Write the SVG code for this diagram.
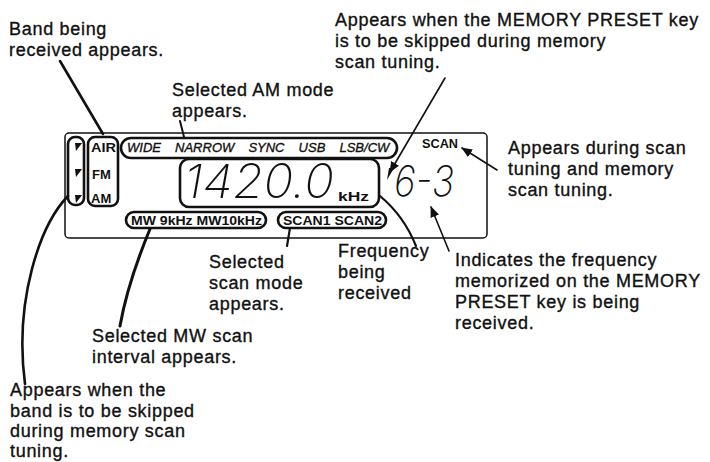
<svg xmlns="http://www.w3.org/2000/svg" width="710" height="462" viewBox="0 0 710 462">
<style>
.lbl{font-family:"Liberation Sans",Arial,sans-serif;font-size:18px;letter-spacing:0.7px;fill:#111;stroke:#111;stroke-width:0.35}
.pill{fill:none;stroke:#111;stroke-width:2.6}
.lcd{font-family:"Liberation Sans",Arial,sans-serif;font-weight:bold;fill:#111}
.mode{font-family:"Liberation Sans",Arial,sans-serif;font-style:italic;font-size:13px;fill:#111;stroke:#111;stroke-width:0.35}
.seg{font-family:Inter,"DejaVu Sans",sans-serif;font-weight:200;font-style:italic;fill:#111}
.ld{fill:none;stroke:#111;stroke-linecap:round}
</style>
<defs>
<marker id="ah" markerUnits="userSpaceOnUse" markerWidth="12" markerHeight="10" refX="10" refY="5" orient="auto">
<path d="M0,0.5 L11,5 L0,9.5 Z" fill="#111"/>
</marker>
</defs>
<rect width="710" height="462" fill="#fff"/>

<g id="panel">
<rect x="65" y="133" width="422" height="105" rx="4" fill="none" stroke="#111" stroke-width="1.5"/>
</g>
<g id="skip-markers">
<rect class="pill" x="68" y="137" width="16" height="68" rx="7"/>
<polygon points="75,143 82,143 76,151" fill="#111"/>
<polygon points="75,169 82,169 76,177" fill="#111"/>
<polygon points="75,195 82,195 76,203" fill="#111"/>
</g>
<g id="band">
<rect class="pill" x="88" y="137" width="30" height="69" rx="7"/>
<text class="lcd" x="91" y="152" font-size="13" textLength="25" lengthAdjust="spacingAndGlyphs">AIR</text>
<text class="lcd" x="92" y="179" font-size="13">FM</text>
<text class="lcd" x="91" y="203" font-size="13">AM</text>
</g>
<g id="mode">
<rect class="pill" x="121" y="138" width="276" height="20" rx="10"/>
<text class="mode" x="127" y="152" word-spacing="10.5">WIDE NARROW SYNC USB LSB/CW</text>
</g>
<g id="frequency">
<rect class="pill" x="180" y="159" width="199" height="48" rx="9"/>
<text class="seg" x="184" y="198" font-size="47" textLength="150" lengthAdjust="spacingAndGlyphs">1420.0</text>
<text class="lcd" x="338" y="201" font-size="12" textLength="31" lengthAdjust="spacingAndGlyphs">kHz</text>
</g>
<g id="preset">
<polygon points="389,168 394,168 387,180" fill="#111"/>
<text class="seg" x="394" y="196" font-size="42" textLength="60" lengthAdjust="spacingAndGlyphs">6-3</text>
<text class="lcd" x="422" y="148" font-size="12" textLength="36" lengthAdjust="spacingAndGlyphs">SCAN</text>
</g>
<g id="mw-interval">
<rect class="pill" x="126" y="212" width="140" height="16" rx="8"/>
<text class="lcd" x="131" y="224.5" font-size="12.5" textLength="131" lengthAdjust="spacingAndGlyphs">MW 9kHz MW10kHz</text>
</g>
<g id="scan-mode">
<rect class="pill" x="278" y="212" width="108" height="16" rx="8"/>
<text class="lcd" x="283" y="224.5" font-size="12.5" textLength="99" lengthAdjust="spacingAndGlyphs">SCAN1 SCAN2</text>
</g>

<g id="connectors">
<path class="ld" d="M60,61 L103,134" stroke-width="2.6"/>
<path class="ld" d="M180,121 L184,137" stroke-width="2"/>
<path class="ld" d="M445,78 L390,172" stroke-width="1.6" marker-end="url(#ah)"/>
<path class="ld" d="M497,170 L462,148" stroke-width="1.6" marker-end="url(#ah)"/>
<path class="ld" d="M380,196 Q404,216 416,246" stroke-width="2.2"/>
<path class="ld" d="M449,251 L431,207" stroke-width="1.6" marker-end="url(#ah)"/>
<path class="ld" d="M150,229 C138,258 126,292 120,326" stroke-width="3"/>
<path class="ld" d="M290,228 L287,246" stroke-width="2.2"/>
<path class="ld" d="M68,196 C40,225 14,300 25,384" stroke-width="2.6"/>
</g>

<g id="label-band">
<text class="lbl" x="9" y="35">Band being</text>
<text class="lbl" x="9" y="56">received appears.</text>
</g>
<g id="label-am-mode">
<text class="lbl" x="172" y="96">Selected AM mode</text>
<text class="lbl" x="172" y="117">appears.</text>
</g>
<g id="label-memory-skip">
<text class="lbl" x="335" y="26">Appears when the MEMORY PRESET key</text>
<text class="lbl" x="335" y="47">is to be skipped during memory</text>
<text class="lbl" x="335" y="68">scan tuning.</text>
</g>
<g id="label-scan">
<text class="lbl" x="508" y="154">Appears during scan</text>
<text class="lbl" x="508" y="175">tuning and memory</text>
<text class="lbl" x="508" y="196">scan tuning.</text>
</g>
<g id="label-scan-mode">
<text class="lbl" x="209" y="268">Selected</text>
<text class="lbl" x="209" y="289">scan mode</text>
<text class="lbl" x="209" y="310">appears.</text>
</g>
<g id="label-frequency">
<text class="lbl" x="338" y="257">Frequency</text>
<text class="lbl" x="338" y="278">being</text>
<text class="lbl" x="338" y="299">received</text>
</g>
<g id="label-preset">
<text class="lbl" x="455" y="266">Indicates the frequency</text>
<text class="lbl" x="455" y="287">memorized on the MEMORY</text>
<text class="lbl" x="455" y="308">PRESET key is being</text>
<text class="lbl" x="455" y="329">received.</text>
</g>
<g id="label-mw">
<text class="lbl" x="92" y="342">Selected MW scan</text>
<text class="lbl" x="92" y="363">interval appears.</text>
</g>
<g id="label-band-skip">
<text class="lbl" x="10" y="396">Appears when the</text>
<text class="lbl" x="10" y="416.5">band is to be skipped</text>
<text class="lbl" x="10" y="437">during memory scan</text>
<text class="lbl" x="10" y="456.5">tuning.</text>
</g>
</svg>
